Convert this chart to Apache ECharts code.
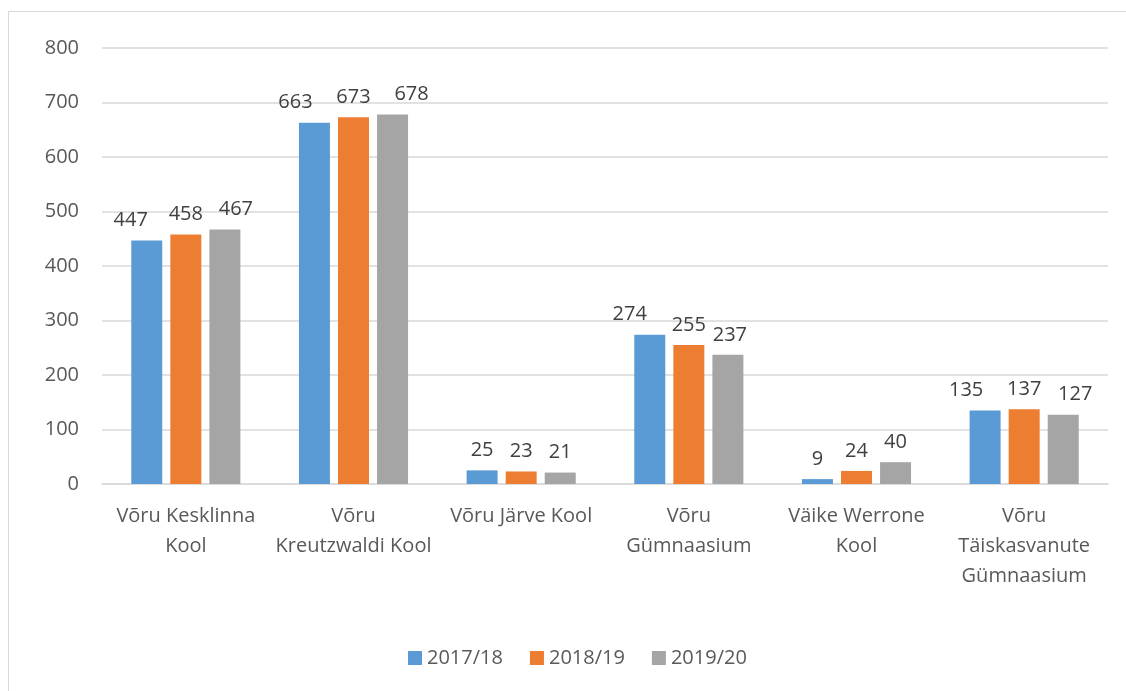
<!DOCTYPE html>
<html><head><meta charset="utf-8">
<script src="https://cdn.jsdelivr.net/npm/echarts@6/dist/echarts.min.js"></script>
<style>
html,body{margin:0;padding:0;background:#fff;}
#frame{position:absolute;left:8px;top:11px;width:1130px;height:690px;border:1px solid #d9d9d9;box-sizing:border-box;}
#c{position:absolute;left:0;top:0;width:1126px;height:691px;}
</style></head>
<body><div id="frame"></div><div id="c"></div>
<script>
const categories = ["Võru Kesklinna\nKool", "Võru\nKreutzwaldi Kool", "Võru Järve Kool", "Võru\nGümnaasium", "Väike Werrone\nKool", "Võru\nTäiskasvanute\nGümnaasium"];
const s2017 = [447, 663, 25, 274, 9, 135];
const s2018 = [458, 673, 23, 255, 24, 137];
const s2019 = [467, 678, 21, 237, 40, 127];
const seriesNames = ["2017/18", "2018/19", "2019/20"];
const colors = ["#5b9bd5", "#ed7d31", "#a5a5a5"];
// horizontal nudges of data labels (style only), as Excel spreads crowded labels
const shift2017 = [-16, -19, 0, -20, 0, -19];
const shift2018 = [0, 0, 0, 0, 0, 0];
const shift2019 = [11, 19, 0, 2, 0, 12];
const font = "'Open Sans', 'Liberation Sans', sans-serif";
const chart = echarts.init(document.getElementById('c'), null, {renderer:'canvas'});
const mk = (name, data, shifts, color) => ({
  name, type:'bar', barWidth:31, barGap:'26%',
  data: data.map((v, i) => ({value: v, label: {offset: [shifts[i], 0]}})),
  itemStyle:{color},
  label:{show:true, position:'top', distance:10, color:'#404040', fontSize:20, fontFamily:font}
});
chart.setOption({
  animation:false,
  color: colors,
  grid:{left:102, right:18, top:48, bottom:207, containLabel:false},
  legend:{bottom:18, left:403, itemWidth:14, itemHeight:14, itemGap:27, icon:'rect',
    textStyle:{color:'#595959', fontSize:20, fontFamily:font}},
  xAxis:{type:'category', data:categories,
    axisLine:{lineStyle:{color:'#d9d9d9', width:1.5}}, axisTick:{show:false},
    axisLabel:{color:'#595959', fontSize:20, fontFamily:font, lineHeight:30, margin:17, interval:0}},
  yAxis:{type:'value', min:0, max:800, interval:100,
    axisLine:{show:false}, axisTick:{show:false},
    splitLine:{lineStyle:{color:'#d9d9d9', width:1.5}},
    axisLabel:{color:'#595959', fontSize:20, fontFamily:font, margin:23}},
  series:[mk(seriesNames[0], s2017, shift2017, colors[0]), mk(seriesNames[1], s2018, shift2018, colors[1]), mk(seriesNames[2], s2019, shift2019, colors[2])]
});
</script></body></html>
